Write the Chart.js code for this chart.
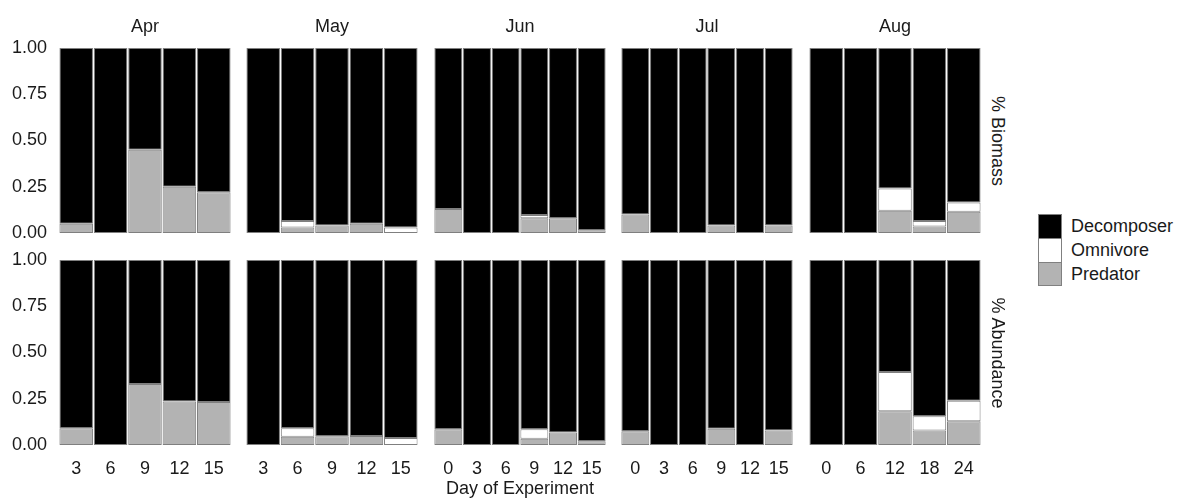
<!DOCTYPE html>
<html>
<head>
<meta charset="utf-8">
<script src="https://cdn.jsdelivr.net/npm/chart.js@4/dist/chart.umd.min.js"></script>
<style>
  body { margin: 0; background: #fff; font-family: 'Liberation Sans', Arial, sans-serif; }
  #wrap { position: relative; width: 1184px; height: 500px; overflow: hidden; }
  #wrap canvas { position: absolute; }
  .strip { position: absolute; font-size: 18px; color: #1a1a1a; writing-mode: vertical-rl; white-space: nowrap; transform: translate(-50%, -50%); }
  .legend { position: absolute; left: 1038px; top: 214px; }
  .legend .row { display: flex; align-items: center; height: 24px; }
  .legend .box { width: 22px; height: 23px; border: 1px solid #808080; border-bottom: none; box-sizing: content-box; }
  .legend .row:last-child .box { border-bottom: 1px solid #808080; height: 22px; }
  .legend .lab { margin-left: 9px; font-size: 18px; color: #1a1a1a; }
</style>
</head>
<body>
<div id="wrap"></div>
<script>
const months = ['Apr', 'May', 'Jun', 'Jul', 'Aug'];
const days = [
  ['3', '6', '9', '12', '15'],
  ['3', '6', '9', '12', '15'],
  ['0', '3', '6', '9', '12', '15'],
  ['0', '3', '6', '9', '12', '15'],
  ['0', '6', '12', '18', '24']
];
const yTicks = [0, 0.25, 0.5, 0.75, 1];
const rowLabels = ['% Biomass', '% Abundance'];
const groups = ['Predator', 'Omnivore', 'Decomposer'];
const groupColors = ['#b3b3b3', '#ffffff', '#000000'];

// % Biomass
const biomassPredator = [
  [0.05, 0, 0.45, 0.25, 0.22],
  [0, 0.03, 0.04, 0.05, 0],
  [0.13, 0, 0, 0.08, 0.08, 0.015],
  [0.10, 0, 0, 0.04, 0, 0.04],
  [0, 0, 0.12, 0.035, 0.115]
];
const biomassOmnivore = [
  [0, 0, 0, 0, 0],
  [0, 0.035, 0, 0, 0.03],
  [0, 0, 0, 0.017, 0, 0],
  [0, 0, 0, 0, 0, 0],
  [0, 0, 0.12, 0.03, 0.05]
];
const biomassDecomposer = [
  [0.95, 1, 0.55, 0.75, 0.78],
  [1, 0.935, 0.96, 0.95, 0.97],
  [0.87, 1, 1, 0.903, 0.92, 0.985],
  [0.90, 1, 1, 0.96, 1, 0.96],
  [1, 1, 0.76, 0.935, 0.835]
];

// % Abundance
const abundancePredator = [
  [0.09, 0, 0.33, 0.235, 0.233],
  [0, 0.045, 0.047, 0.048, 0],
  [0.085, 0, 0, 0.034, 0.068, 0.02],
  [0.075, 0, 0, 0.088, 0, 0.079],
  [0, 0, 0.183, 0.079, 0.128]
];
const abundanceOmnivore = [
  [0, 0, 0, 0, 0],
  [0, 0.045, 0, 0, 0.038],
  [0, 0, 0, 0.051, 0, 0],
  [0, 0, 0, 0, 0, 0],
  [0, 0, 0.212, 0.076, 0.111]
];
const abundanceDecomposer = [
  [0.91, 1, 0.67, 0.765, 0.767],
  [1, 0.91, 0.953, 0.952, 0.962],
  [0.915, 1, 1, 0.915, 0.932, 0.98],
  [0.925, 1, 1, 0.912, 1, 0.921],
  [1, 1, 0.605, 0.845, 0.761]
];

const rowData = [
  [biomassPredator, biomassOmnivore, biomassDecomposer],
  [abundancePredator, abundanceOmnivore, abundanceDecomposer]
];

// panel geometry
const panelLeft = [59, 246, 434, 621, 809];
const panelW = 172;
const panelTop = [48, 260];
const panelH = 185;
const yAxisW = 59;
const xAxisH = 55;
const FONT = "'Liberation Sans', Arial, sans-serif";
const TEXT = '#1a1a1a';

const wrap = document.getElementById('wrap');

function makePanel(r, c) {
  const first = c === 0;
  const bottom = r === 1;
  const canvas = document.createElement('canvas');
  const padTop = bottom ? 20 : 0;
  const padBottom = bottom ? 0 : 15;
  const left = first ? 0 : panelLeft[c];
  const width = panelW + (first ? yAxisW : 0);
  const top = bottom ? panelTop[1] - padTop : 0;
  const height = bottom ? padTop + panelH + xAxisH : panelTop[0] + panelH + padBottom;
  canvas.width = width;
  canvas.height = height;
  canvas.style.left = left + 'px';
  canvas.style.top = top + 'px';
  wrap.appendChild(canvas);

  const datasets = groups.map((g, i) => ({
    label: g,
    data: rowData[r][i][c],
    backgroundColor: groupColors[i],
    borderColor: '#7f7f7f',
    // zero-height segments get no outline
    borderWidth: ctx => (ctx.raw ? 1 : 0),
    borderSkipped: false,
    barPercentage: 0.975,
    categoryPercentage: 1
  }));

  new Chart(canvas, {
    type: 'bar',
    data: { labels: days[c], datasets: datasets },
    options: {
      responsive: false,
      animation: false,
      layout: { padding: { top: padTop, bottom: padBottom, left: 0, right: 0 } },
      plugins: {
        legend: { display: false },
        tooltip: { enabled: false },
        title: {
          display: !bottom,
          fullSize: false,
          text: months[c],
          color: TEXT,
          font: { family: FONT, size: 18, weight: 'normal' },
          padding: { top: 16, bottom: 10.4 }
        }
      },
      scales: {
        x: {
          stacked: true,
          display: bottom,
          grid: { display: false, drawTicks: false },
          border: { display: false },
          ticks: { color: TEXT, font: { family: FONT, size: 18 }, padding: 13, maxRotation: 0, autoSkip: false },
          title: {
            display: bottom && c === 2,
            text: 'Day of Experiment',
            color: TEXT,
            font: { family: FONT, size: 18 },
            padding: { top: 0, bottom: 0 }
          },
          afterFit: s => { if (bottom) { s.height = xAxisH; s.paddingLeft = 0; s.paddingRight = 0; } }
        },
        y: {
          stacked: true,
          display: first,
          min: 0,
          max: 1,
          grid: { display: false, drawTicks: false },
          border: { display: false },
          afterBuildTicks: s => { s.ticks = yTicks.map(v => ({ value: v })); },
          ticks: {
            color: TEXT,
            font: { family: FONT, size: 18 },
            padding: 12,
            callback: v => Number(v).toFixed(2)
          },
          afterFit: s => { if (first) { s.width = yAxisW; s.paddingTop = 0; s.paddingBottom = 0; } }
        }
      }
    }
  });
}

for (let r = 0; r < 2; r++) {
  for (let c = 0; c < months.length; c++) makePanel(r, c);
  const s = document.createElement('div');
  s.className = 'strip';
  s.textContent = rowLabels[r];
  s.style.left = '997px';
  s.style.top = (panelTop[r] + panelH / 2) + 'px';
  wrap.appendChild(s);
}

// legend (top to bottom: Decomposer, Omnivore, Predator)
const legend = document.createElement('div');
legend.className = 'legend';
for (let i = groups.length - 1; i >= 0; i--) {
  const row = document.createElement('div');
  row.className = 'row';
  row.innerHTML = `<div class="box" style="background:${groupColors[i]}"></div><div class="lab">${groups[i]}</div>`;
  legend.appendChild(row);
}
wrap.appendChild(legend);
</script>
</body>
</html>
